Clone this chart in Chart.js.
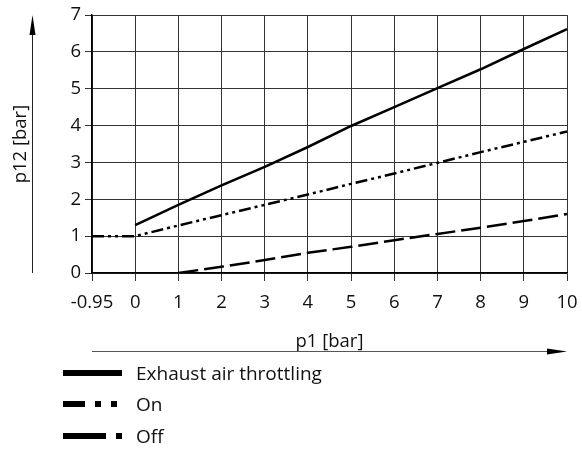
<!DOCTYPE html>
<html>
<head>
<meta charset="utf-8">
<script src="https://cdn.jsdelivr.net/npm/chart.js@4.4.0/dist/chart.umd.min.js"></script>
<style>
  body { margin: 0; background: #fff; }
  #wrap { position: relative; width: 582px; height: 453px; }
  #legend { position: absolute; left: 63px; top: 357px; font-family: "Open Sans", sans-serif; font-size: 19px; color: #111; }
  .row { display: flex; align-items: center; height: 31.5px; }
  .row svg { width: 60px; height: 8px; margin-right: 13px; }
</style>
</head>
<body>
<div id="wrap">
  <canvas id="chart" width="582" height="453"></canvas>
  <div id="legend">
    <div class="row"><svg><line x1="0" y1="4" x2="59" y2="4" stroke="#000" stroke-width="6"/></svg><span>Exhaust air throttling</span></div>
    <div class="row"><svg><line x1="0" y1="4" x2="59" y2="4" stroke="#000" stroke-width="6" stroke-dasharray="22 10 6 10 6 10"/></svg><span>On</span></div>
    <div class="row"><svg><line x1="0" y1="4" x2="59" y2="4" stroke="#000" stroke-width="6" stroke-dasharray="43 10 6 10"/></svg><span>Off</span></div>
  </div>
</div>
<script>
// ==== Data ====
const xLabels = ['-0.95', '0', '1', '2', '3', '4', '5', '6', '7', '8', '9', '10'];
const throttling = [null, 1.3, 1.85, 2.38, 2.88, 3.42, 3.99, 4.5, 5.02, 5.53, 6.08, 6.62];
const onValues = [1.0, 1.0, 1.29, 1.57, 1.85, 2.13, 2.42, 2.7, 2.99, 3.28, 3.56, 3.84];
const offValues = [null, null, 0, 0.17, 0.35, 0.55, 0.71, 0.89, 1.06, 1.23, 1.41, 1.6];

const FONT = { family: '"Open Sans", sans-serif', size: 18.5 };

// ==== Axis arrows ====
const arrows = {
  id: 'arrows',
  afterDraw(chart) {
    const ctx = chart.ctx;
    const a = chart.chartArea;
    ctx.save();
    ctx.strokeStyle = '#222';
    ctx.fillStyle = '#000';
    ctx.lineWidth = 1;
    // y arrow
    ctx.beginPath();
    ctx.moveTo(32.5, a.bottom);
    ctx.lineTo(32.5, 30);
    ctx.stroke();
    ctx.beginPath();
    ctx.moveTo(32.5, 15);
    ctx.lineTo(29.5, 35);
    ctx.lineTo(35.5, 35);
    ctx.closePath();
    ctx.fill();
    // x arrow
    ctx.strokeStyle = '#555';
    ctx.beginPath();
    ctx.moveTo(a.left, 351.5);
    ctx.lineTo(a.right - 15, 351.5);
    ctx.stroke();
    ctx.beginPath();
    ctx.moveTo(a.right, 351.5);
    ctx.lineTo(a.right - 20, 348.5);
    ctx.lineTo(a.right - 20, 354.5);
    ctx.closePath();
    ctx.fill();
    ctx.restore();
  }
};

const line = (data, dash) => ({
  data,
  borderColor: '#000',
  borderWidth: 2.5,
  borderDash: dash,
  pointRadius: 0,
  tension: 0,
  fill: false
});

new Chart(document.getElementById('chart'), {
  type: 'line',
  data: {
    labels: xLabels,
    datasets: [
      line(throttling, []),
      line(onValues, [12, 4, 3, 4, 3, 4]),
      line(offValues, [20, 6])
    ]
  },
  options: {
    responsive: false,
    animation: false,
    layout: { padding: { left: 0, right: 15, top: 15, bottom: 100 } },
    plugins: { legend: { display: false }, tooltip: { enabled: false } },
    scales: {
      x: {
        offset: false,
        grid: { color: '#333', lineWidth: 1, tickLength: 8, offset: false },
        border: { color: '#000', width: 1.5 },
        ticks: { color: '#111', font: FONT, padding: 11, maxRotation: 0, autoSkip: false },
        title: { display: true, text: 'p1 [bar]', color: '#111', font: FONT, padding: { top: 0, bottom: 0 } },
        afterFit(scale) {
          scale.height = 80;
          // keep plot edges where the reference has them
          scale.paddingLeft = 0;
          scale.paddingRight = 0;
        }
      },
      y: {
        min: 0,
        max: 7,
        grid: { color: '#333', lineWidth: 1, tickLength: 7 },
        border: { color: '#000', width: 1.5 },
        ticks: { stepSize: 1, color: '#111', font: FONT, padding: 4 },
        title: { display: true, text: 'p12 [bar]', color: '#111', font: FONT, padding: { top: 10, bottom: 0 } },
        afterFit(scale) { scale.width = 92; }
      }
    }
  },
  plugins: [arrows]
});
</script>
</body>
</html>
